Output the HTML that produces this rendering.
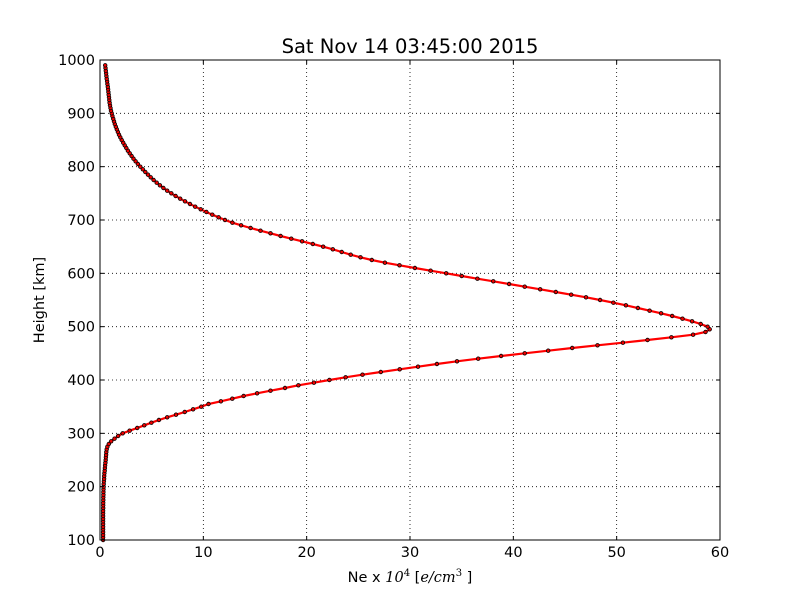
<!DOCTYPE html>
<html><head><meta charset="utf-8"><style>
html,body{margin:0;padding:0;background:#fff;}
svg{display:block;font-family:"DejaVu Sans","Liberation Sans",sans-serif;}
</style></head><body>
<svg id="s" width="800" height="600" viewBox="0 0 800 600" xmlns="http://www.w3.org/2000/svg">
<rect width="800" height="600" fill="#fff"/>
<g id="grid" stroke="#000" stroke-width="0.8" stroke-dasharray="1,3"></g>
<g id="data"></g>
<rect x="100" y="60" width="620" height="480" fill="none" stroke="#000" stroke-width="1"/>
<g id="ticks" stroke="#000" stroke-width="1"></g>
<g id="labels" font-size="14.5" fill="#000"></g>
<text x="410" y="53" font-size="19.5" text-anchor="middle">Sat Nov 14 03:45:00 2015</text>
<text x="410" y="582" font-size="14.5" text-anchor="middle">Ne x <tspan font-family="DejaVu Serif,serif" font-style="italic">10</tspan><tspan font-size="10" dy="-6" font-family="DejaVu Serif,serif">4</tspan><tspan dy="6">  [</tspan><tspan font-family="DejaVu Serif,serif" font-style="italic">e/cm</tspan><tspan font-size="10" dy="-6" font-family="DejaVu Serif,serif">3</tspan><tspan dy="6"> ]</tspan></text>
<text transform="translate(44,300) rotate(-90)" font-size="14.5" text-anchor="middle">Height [km]</text>
</svg>
<script>
var NS="http://www.w3.org/2000/svg";
function X(v){return 100+v*620/60;}
function Y(h){return 540-(h-100)*480/900;}
function el(p,t,a,txt){var e=document.createElementNS(NS,t);for(var k in a)e.setAttribute(k,a[k]);if(txt!==undefined)e.textContent=txt;document.getElementById(p).appendChild(e);}
for(var i=1;i<6;i++){el("grid","line",{x1:X(i*10),x2:X(i*10),y1:60,y2:540});}
for(var h=200;h<1000;h+=100){el("grid","line",{x1:100,x2:720,y1:Y(h),y2:Y(h)});}
for(var i=0;i<=6;i++){var x=X(i*10);el("ticks","line",{x1:x,x2:x,y1:540,y2:536});el("ticks","line",{x1:x,x2:x,y1:60,y2:64});
el("labels","text",{x:x,y:557,"text-anchor":"middle"},String(i*10));}
for(var h=100;h<=1000;h+=100){var y=Y(h);el("ticks","line",{x1:100,x2:104,y1:y,y2:y});el("ticks","line",{x1:720,x2:716,y1:y,y2:y});
el("labels","text",{x:95,y:y+5,"text-anchor":"end"},String(h));}
var T=[[100,0.3],[150,0.3],[200,0.35],[230,0.45],[250,0.55],[270,0.65],[280,0.85],[290,1.4],[300,2.2],[310,3.6],[325,5.7],[340,8.2],[350,9.8],[355,10.5],[360,11.7],[365,12.8],[370,13.9],[375,15.2],[380,16.5],[385,17.9],[390,19.2],[395,20.7],[400,22.2],[410,25.4],[420,29],[430,32.6],[440,36.6],[450,41.1],[460,45.7],[470,50.6],[480,55.3],[485,57.4],[490,58.6],[495,59.0],[500,58.8],[510,57.3],[525,54.3],[550,48.4],[575,41.1],[600,33.5],[625,26.3],[650,21.6],[675,16.5],[700,12.1],[750,6.9],[800,3.9],[850,2.1],[900,1.13],[950,0.75],[990,0.5]];
function f(h){for(var i=0;i<T.length-1;i++){if(h>=T[i][0]&&h<=T[i+1][0]){
var p0=T[Math.max(i-1,0)],p1=T[i],p2=T[i+1],p3=T[Math.min(i+2,T.length-1)];
var t=(h-p1[0])/(p2[0]-p1[0]);
var m1=(p2[1]-p0[1])/(p2[0]-p0[0])*(p2[0]-p1[0]);var m2=(p3[1]-p1[1])/(p3[0]-p1[0])*(p2[0]-p1[0]);
var t2=t*t,t3=t2*t;return (2*t3-3*t2+1)*p1[1]+(t3-2*t2+t)*m1+(-2*t3+3*t2)*p2[1]+(t3-t2)*m2;}}return 0.5;}
var pts=[];for(var h=100;h<=990;h+=5){pts.push([X(f(h)),Y(h)]);}
el("data","polyline",{points:pts.map(function(p){return p[0].toFixed(1)+","+p[1].toFixed(1);}).join(" "),fill:"none",stroke:"#f00","stroke-width":2.2});
pts.forEach(function(p){el("data","circle",{cx:p[0].toFixed(1),cy:p[1].toFixed(1),r:1.8,fill:"#e00",stroke:"#000","stroke-width":0.8});});
</script>
</body></html>
